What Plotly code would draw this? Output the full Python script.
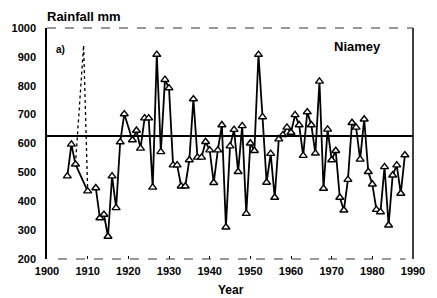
import plotly.graph_objects as go

# ---- data ----
years = [1905, 1906, 1907, 1910, 1911, 1912, 1913, 1914, 1915, 1916, 1917, 1918, 1919,
         1921, 1922, 1923, 1924, 1925, 1926, 1927, 1928, 1929, 1930,
         1931, 1932, 1933, 1934, 1935, 1936, 1937, 1938, 1939, 1940,
         1941, 1942, 1943, 1944, 1945, 1946, 1947, 1948, 1949, 1950,
         1951, 1952, 1953, 1954, 1955, 1956, 1957, 1958, 1959, 1960,
         1961, 1962, 1963, 1964, 1965, 1966, 1967, 1968, 1969, 1970,
         1971, 1972, 1973, 1974, 1975, 1976, 1977, 1978, 1979, 1980,
         1981, 1982, 1983, 1984, 1985, 1986, 1987, 1988]
rainfall = [487, 597, 528, 435, None, 446, 342, 354, 278, 487, 377, 605, 702,
            612, 645, 583, 688, 688, 448, 908, 571, 821, 792,
            525, 525, 452, 452, 543, 754, 552, 552, 606, 577,
            464, 577, 664, 310, 591, 648, 502, 661, 357, 601,
            575, 908, 692, 465, 565, 413, 615, 630, 656, 638,
            699, 664, 558, 709, 664, 566, 815, 444, 649, 543,
            575, 413, 369, 475, 672, 656, 545, 684, 502, 459,
            371, 363, 519, 317, 490, 525, 427, 560]

# uncertain early record drawn dashed in the original
dashed_years = [1907, 1909, 1910]
dashed_rain = [528, 940, 435]

mean_rainfall = 626

x_ticks = [1900, 1910, 1920, 1930, 1940, 1950, 1960, 1970, 1980, 1990]
y_ticks = [200, 300, 400, 500, 600, 700, 800, 900, 1000]

FONT = "Liberation Sans"

fig = go.Figure()

fig.add_trace(go.Scatter(
    x=dashed_years, y=dashed_rain, mode="lines",
    line=dict(color="black", width=1.3, dash="dot"),
    hoverinfo="skip", showlegend=False))

fig.add_trace(go.Scatter(
    x=years, y=rainfall, mode="lines+markers",
    connectgaps=False,
    line=dict(color="black", width=1.8),
    marker=dict(symbol="triangle-up", size=7, color="white",
                line=dict(color="black", width=1.4)),
    showlegend=False))

fig.add_hline(y=mean_rainfall, line=dict(color="black", width=2))

# frame: solid left/right, broken top/bottom
fig.add_shape(type="line", xref="paper", yref="paper", x0=1, x1=1, y0=0, y1=1,
              line=dict(color="black", width=1.5))
fig.add_shape(type="line", xref="paper", yref="paper", x0=0, x1=1, y0=1, y1=1,
              line=dict(color="#333", width=1, dash="dash"))
fig.add_shape(type="line", xref="paper", yref="paper", x0=0.03, x1=0.98, y0=0, y1=0,
              line=dict(color="#333", width=1, dash="dash"))

fig.update_xaxes(range=[1900, 1990], tickvals=x_ticks, ticktext=[str(v) for v in x_ticks],
                 showgrid=False, zeroline=False, showline=False,
                 ticks="inside", ticklen=3, tickcolor="black", tickwidth=1,
                 tickfont=dict(family=FONT, size=11, color="black", weight="bold"),
                 ticklabelstandoff=4)
fig.update_yaxes(range=[200, 1000], tickvals=y_ticks, ticktext=[str(v) for v in y_ticks],
                 showgrid=False, zeroline=False, showline=True, linecolor="black",
                 linewidth=1.5, ticks="",
                 tickfont=dict(family=FONT, size=11, color="black", weight="bold"),
                 ticklabelstandoff=7)

fig.add_annotation(text="Rainfall mm", xref="paper", yref="paper", x=-0.005, y=1.048,
                   xanchor="left", yanchor="middle", showarrow=False,
                   font=dict(family=FONT, size=13, color="black", weight="bold"))
fig.add_annotation(text="Year", xref="paper", yref="paper", x=0.503, y=-0.133,
                   xanchor="center", yanchor="middle", showarrow=False,
                   font=dict(family=FONT, size=12, color="black", weight="bold"))
fig.add_annotation(text="a)", xref="paper", yref="paper", x=0.037, y=0.905,
                   xanchor="center", yanchor="middle", showarrow=False,
                   font=dict(family=FONT, size=10, color="black", weight="bold"))
fig.add_annotation(text="Niamey", xref="paper", yref="paper", x=0.847, y=0.918,
                   xanchor="center", yanchor="middle", showarrow=False,
                   font=dict(family=FONT, size=13, color="black", weight="bold"))

fig.update_layout(width=437, height=298,
                  margin=dict(l=43, r=14, t=28, b=39),
                  paper_bgcolor="white", plot_bgcolor="white",
                  showlegend=False)

fig.write_html("out.html", config={"displayModeBar": False},
               post_script="document.body.style.margin='0';")
